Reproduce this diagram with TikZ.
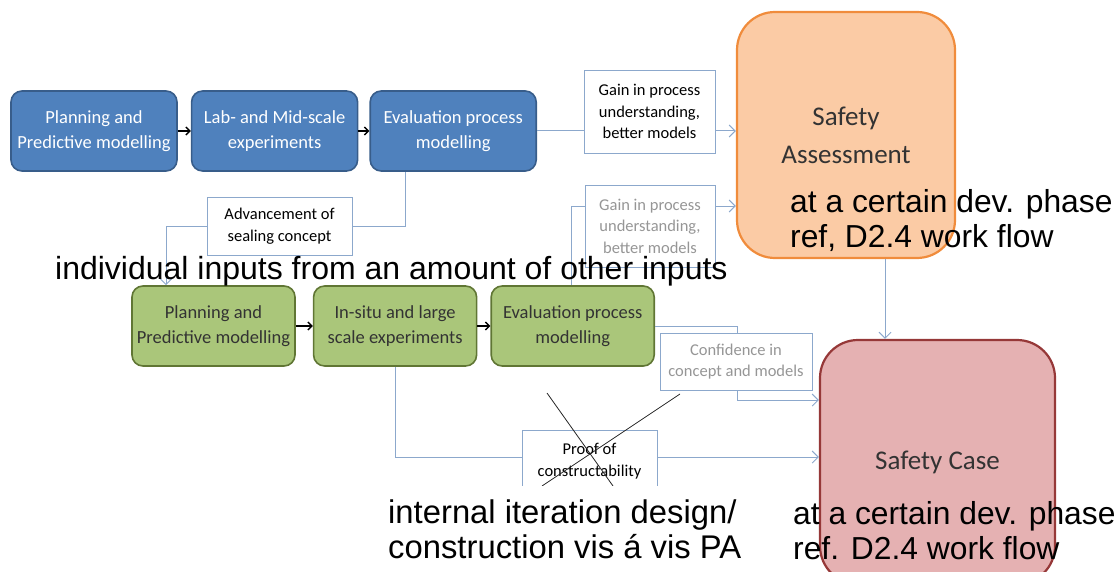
\documentclass[tikz,border=0pt]{standalone}
\usepackage{fontspec}
\setmainfont{Carlito}
\newfontfamily\arialfont{Liberation Sans}
\usetikzlibrary{arrows.meta, positioning}

\definecolor{boxblue}{RGB}{79,129,189}
\definecolor{boxblueline}{RGB}{56,93,138}
\definecolor{boxgreen}{RGB}{170,198,122}
\definecolor{boxgreenline}{RGB}{96,118,52}
\definecolor{saorange}{RGB}{251,203,165}
\definecolor{saline}{RGB}{240,140,60}
\definecolor{scpink}{RGB}{229,177,178}
\definecolor{scline}{RGB}{150,56,56}
\definecolor{linkblue}{RGB}{140,168,204}
\definecolor{tagtext}{RGB}{150,150,150}

\begin{document}
\begin{tikzpicture}[x=1pt, y=1pt,
        every node/.style={align=center},
        stage/.style={draw=boxblueline, line width=1.6pt, rounded corners=11pt, fill=boxblue, text=white, minimum width=166pt, minimum height=80pt, inner sep=2pt, font=\fontsize{18.5}{25}\selectfont},
        field/.style={stage, draw=boxgreenline, fill=boxgreen, text=black!80, minimum width=163pt},
        assess/.style={draw=saline, line width=2.2pt, rounded corners=38pt, fill=saorange, text=black!80, minimum width=218pt, minimum height=246pt, font=\fontsize{27}{38}\selectfont},
        scase/.style={assess, draw=scline, fill=scpink, minimum width=235pt, minimum height=244pt},
        tag/.style={draw=linkblue, line width=0.9pt, fill=white, inner sep=0pt, font=\fontsize{16.5}{21.5}\selectfont},
        link/.style={draw=linkblue, line width=1pt, -{Straight Barb[length=6pt, width=12pt]}},
        flow/.style={line width=1.4pt, -{Straight Barb[length=4pt, width=8pt]}},
        strike/.style={line width=0.8pt, black!85},
        remark/.style={align=left, inner sep=0pt, font=\arialfont\fontsize{31.8}{35}\selectfont}
    ]
        \useasboundingbox (0,0) rectangle (1118,-572);

        % lab scale
        \node[stage] (plan1) at (94,-131) {Planning and\\Predictive modelling};
        \node[stage, right=13pt of plan1] (lab) {Lab- and Mid-scale\\experiments};
        \node[stage, right=11pt of lab] (eval1) {Evaluation process\\modelling};

        % full scale
        \node[field] (plan2) at (213.5,-326) {Planning and\\Predictive modelling};
        \node[field, right=17pt of plan2] (insitu) {In-situ and large\\scale experiments};
        \node[field, right=13pt of insitu] (eval2) {Evaluation process\\modelling};

        \node[assess] (sa) at (846,-135) {Safety\\Assessment};
        \node[scase] (sc) at (937.5,-462) {Safety Case};

        \draw[flow] (plan1) -- (lab);
        \draw[flow] (lab) -- (eval1);
        \draw[flow] (plan2) -- (insitu);
        \draw[flow] (insitu) -- (eval2);

        % bends of the connectors
        \coordinate (advbend) at (405,-226);
        \coordinate (advdrop) at (166,0);
        \coordinate (gainbend) at (571,-206);
        \coordinate (confbend) at (737,-400);
        \coordinate (proofbend) at (395,-457);
        \coordinate (drop) at (885,0);

        \draw[link] (eval1.east) -- (eval1.east -| sa.west);
        \draw[link] (eval1.south -| advbend) -- (advbend) -| (plan2.north -| advdrop);
        \draw[link] (eval2.north -| gainbend) |- (gainbend -| sa.west);
        \draw[link] (eval2.east) -| (confbend) -- (confbend -| sc.west);
        \draw[link] (insitu.south) |- (sc.west |- proofbend);
        \draw[link] (sa.south -| drop) -- (sc.north -| drop);

        \node[tag, minimum width=131pt, minimum height=83pt] (gain1) at (649.5,-111.5) {Gain in process\\understanding,\\better models};
        \node[tag, minimum width=145pt, minimum height=58pt] (adv) at (279.5,-226) {Advancement of\\sealing concept};
        \node[tag, text=tagtext, minimum width=130pt, minimum height=82pt] (gain2) at (650,-226) {Gain in process\\understanding,\\better models};
        \node[tag, text=tagtext, minimum width=152pt, minimum height=57pt] (conf) at (736,-361.5) {Confidence in\\concept and models};
        \node[tag, minimum width=135pt, minimum height=62pt] (proof) at (589.5,-461) {Proof of\\constructability};

        % crossed out
        \draw[strike] (547,-393) -- (613,-486);
        \draw[strike] (680,-394) -- (542,-486);

        \node[remark, anchor=base west, font=\arialfont\fontsize{32}{35}\selectfont] (inputs) at (55,-279) {individual inputs from an amount of other inputs};
        \node[remark, anchor=north west] (phase1) at (790,-189) {at a certain dev. phase\\ref, D2.4 work flow};
        \node[remark, anchor=north west, fill=white, inner xsep=2pt, inner ysep=14pt, font=\arialfont\fontsize{32.8}{35}\selectfont] (iter) at (386,-486) {internal iteration design/\\construction vis á vis PA};
        \node[remark, anchor=north west] (phase2) at (793,-501) {at a certain dev. phase\\ref. D2.4 work flow};
    \end{tikzpicture}
\end{document}
